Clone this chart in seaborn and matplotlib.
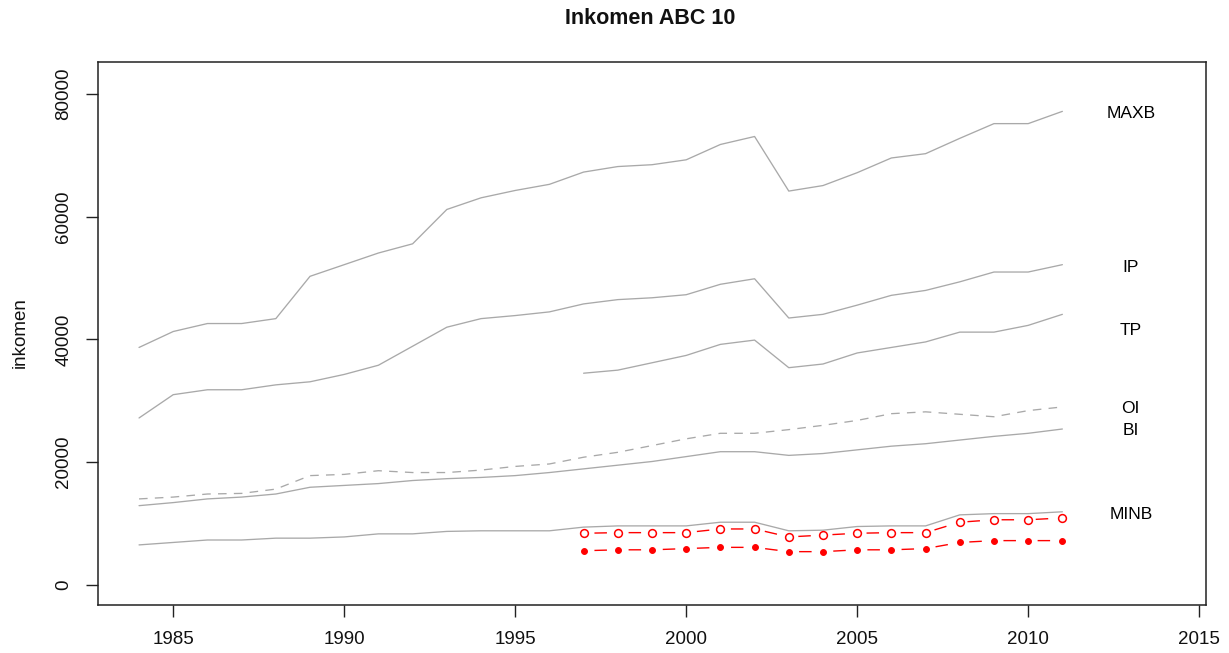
import matplotlib
matplotlib.use("Agg")
import matplotlib.pyplot as plt
import seaborn as sns
import pandas as pd

# Years
years = list(range(1984, 2012))
years_late = list(range(1997, 2012))

# Gray reference series (1984-2011)
maxb = [38700, 41300, 42600, 42600, 43400, 50300, 52200, 54100, 55600, 61200,
        63100, 64300, 65300, 67300, 68200, 68500, 69300, 71800, 73100, 64200,
        65100, 67200, 69600, 70300, 72800, 75200, 75200, 77200]
ip = [27200, 31000, 31800, 31800, 32600, 33100, 34300, 35800, 38900, 42000,
      43400, 43900, 44500, 45800, 46500, 46800, 47300, 49000, 49900, 43500,
      44100, 45600, 47200, 48000, 49400, 51000, 51000, 52200]
oi = [14000, 14300, 14800, 14900, 15600, 17800, 18000, 18600, 18300, 18300,
      18700, 19300, 19700, 20800, 21600, 22700, 23800, 24700, 24700, 25300,
      26000, 26800, 27900, 28200, 27800, 27400, 28400, 29000]
bi = [12900, 13400, 14000, 14300, 14800, 15900, 16200, 16500, 17000, 17300,
      17500, 17800, 18300, 18900, 19500, 20100, 20900, 21700, 21700, 21100,
      21400, 22000, 22600, 23000, 23600, 24200, 24700, 25400]
minb = [6500, 6900, 7300, 7300, 7600, 7600, 7800, 8300, 8300, 8700,
        8800, 8800, 8800, 9400, 9600, 9600, 9600, 10200, 10200, 8800,
        8900, 9500, 9600, 9600, 11400, 11600, 11600, 11900]

# TP series (1997-2011)
tp = [34500, 35000, 36200, 37400, 39200, 39900, 35400, 36000, 37800, 38700,
      39600, 41200, 41200, 42300, 44100]

# Red series (1997-2011)
red_open = [8400, 8500, 8500, 8500, 9100, 9100, 7800, 8100, 8400, 8500,
            8500, 10200, 10600, 10600, 10900]
red_filled = [5550, 5700, 5700, 5900, 6100, 6100, 5400, 5400, 5700, 5700,
              5900, 6900, 7200, 7200, 7200]

# Series labels at the right
label_names = ["MAXB", "IP", "TP", "OI", "BI", "MINB"]
label_x = 2013
label_y = [76800, 51800, 41500, 28700, 25100, 11500]

sns.set_style("white")
plt.rcParams["font.family"] = ["Liberation Sans", "DejaVu Sans"]

fig = plt.figure(figsize=(12.29, 6.53), dpi=100)
ax = fig.add_axes([98 / 1229, 1 - 605 / 653, (1206 - 98) / 1229, (605 - 62) / 653])

gray = "#a9a9a9"
lw = 0.95

full = pd.DataFrame({"year": years, "MAXB": maxb, "IP": ip, "OI": oi,
                     "BI": bi, "MINB": minb})
late = pd.DataFrame({"year": years_late, "TP": tp, "open": red_open,
                     "filled": red_filled})

for col in ["MAXB", "IP", "BI", "MINB"]:
    sns.lineplot(data=full, x="year", y=col, ax=ax, color=gray, linewidth=lw)

sns.lineplot(data=full, x="year", y="OI", ax=ax, color=gray, linewidth=lw)
ax.lines[-1].set_linestyle((0, (6.5, 5.5)))

sns.lineplot(data=late, x="year", y="TP", ax=ax, color=gray, linewidth=lw)

# Red series: gap, one dash, gap between consecutive markers
red_dash = (0, (0.0, 7.8, 9.0, 7.8))

sns.lineplot(data=late, x="year", y="open", ax=ax, color="red", linewidth=1.0,
             marker="o", markersize=5.6, markerfacecolor="white",
             markeredgecolor="red", markeredgewidth=1.1)
ax.lines[-1].set_linestyle(red_dash)
ax.lines[-1].set_dash_capstyle("butt")

sns.lineplot(data=late, x="year", y="filled", ax=ax, color="red", linewidth=1.0,
             marker="o", markersize=4.2, markerfacecolor="red",
             markeredgecolor="red")
ax.lines[-1].set_linestyle(red_dash)
ax.lines[-1].set_dash_capstyle("butt")

for name, yv in zip(label_names, label_y):
    ax.text(label_x, yv, name, ha="center", va="center", fontsize=12.5,
            color="black")

ax.set_xlim(1982.8, 2015.2)
ax.set_ylim(-3300, 85250)
ax.set_xticks([1985, 1990, 1995, 2000, 2005, 2010, 2015])
ax.set_yticks([0, 20000, 40000, 60000, 80000])
ax.set_xticklabels([str(v) for v in [1985, 1990, 1995, 2000, 2005, 2010, 2015]])
ax.set_yticklabels(["0", "20000", "40000", "60000", "80000"])

ax.set_xlabel("")
ax.set_ylabel("")
for s in ax.spines.values():
    s.set_visible(True)
    s.set_color("#222222")
    s.set_linewidth(1.1)

ax.tick_params(axis="both", which="major", direction="out", length=8.5,
               width=1.0, color="#222222", labelsize=13.5, pad=10,
               labelcolor="#111111", bottom=True, left=True)
ax.tick_params(axis="y", labelrotation=90)
for lab in ax.get_yticklabels():
    lab.set_va("center")

fig.text(20 / 1229, 1 - 333 / 653, "inkomen", rotation=90, ha="center",
         va="center", fontsize=13.5, color="#111111")
fig.text(650 / 1229, 1 - 19 / 653, "Inkomen ABC 10", ha="center", va="center",
         fontsize=15.5, fontweight="bold", color="#111111")

ax.grid(False)
fig.savefig("out.png", dpi=100)
